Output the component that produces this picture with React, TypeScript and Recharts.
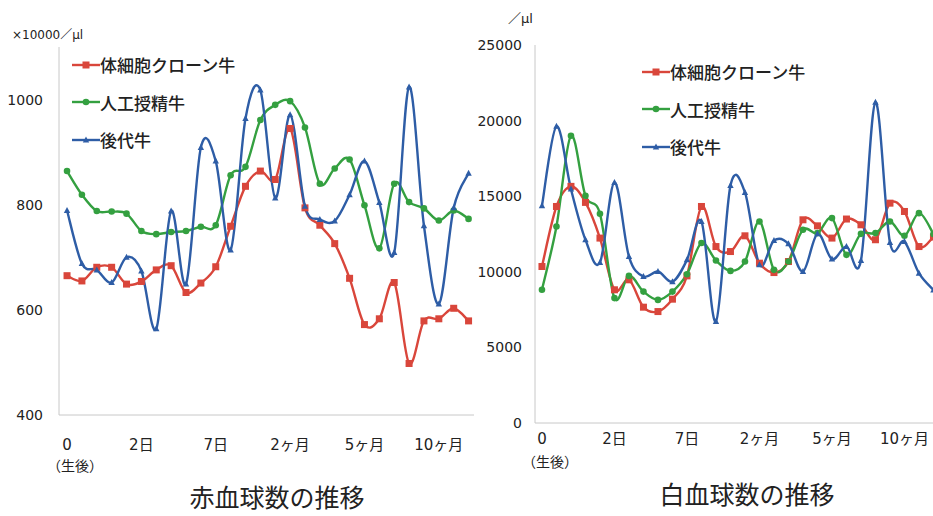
import React from "react";
import { LineChart, Line, XAxis, YAxis, Legend } from "recharts";

// 横軸: 生後からの経過 (28回の採血)
const tickIndex = [0, 5, 10, 15, 20, 25];
const tickLabels = ["0", "2日", "7日", "2ヶ月", "5ヶ月", "10ヶ月"];

// 赤血球数 (×10000/μl)
const rbcClone = [665, 655, 681, 681, 649, 654, 676, 684, 633, 651, 682, 759, 835, 864, 848, 945, 794, 761, 726, 660, 572, 583, 652, 498, 579, 583, 603, 579];
const rbcAI = [864, 819, 788, 787, 783, 750, 744, 748, 750, 758, 761, 856, 872, 961, 990, 997, 947, 840, 869, 886, 799, 717, 840, 805, 793, 770, 789, 773];
const rbcProgeny = [789, 688, 676, 652, 700, 674, 564, 788, 649, 909, 883, 714, 964, 1018, 813, 971, 797, 772, 769, 819, 883, 804, 709, 1024, 760, 611, 794, 860];

// 白血球数 (/μl)
const wbcClone = [10350, 14320, 15650, 14590, 12230, 8810, 9470, 7660, 7370, 8190, 9730, 14320, 11670, 11340, 12380, 10570, 9950, 10680, 13440, 13040, 12230, 13490, 13110, 12120, 14540, 13990, 11670, 12300];
const wbcAI = [8810, 13000, 19000, 15030, 13840, 8260, 9730, 8690, 8140, 8690, 9840, 11900, 10750, 10060, 10680, 13330, 10130, 10680, 12780, 12560, 13550, 11120, 12510, 12560, 13330, 12380, 13880, 12500];
const wbcProgeny = [14370, 19620, 15470, 12120, 10610, 15910, 11010, 9690, 10020, 9350, 10790, 13330, 6710, 15700, 15250, 10460, 12070, 11850, 10020, 12510, 10840, 11670, 10750, 21210, 11940, 12000, 9910, 8800];

const rbcTicks = [400, 600, 800, 1000];
const wbcTicks = [0, 5000, 10000, 15000, 20000, 25000];

const RED = "#d9463b";
const GREEN = "#34a040";
const BLUE = "#2e5da6";

const series = [
  { key: "clone", name: "体細胞クローン牛", color: RED, shape: "square" },
  { key: "ai", name: "人工授精牛", color: GREEN, shape: "circle" },
  { key: "progeny", name: "後代牛", color: BLUE, shape: "triangle" },
];

const rbcData = rbcClone.map((v, i) => ({ i, clone: v, ai: rbcAI[i], progeny: rbcProgeny[i] }));
const wbcData = wbcClone.map((v, i) => ({ i, clone: v, ai: wbcAI[i], progeny: wbcProgeny[i] }));

const JP = '"Noto Sans CJK JP", sans-serif';
const NUM = '"DejaVu Sans", "Noto Sans CJK JP", sans-serif';

// Excel風のなめらかな線 (Catmull-Rom)
function smooth(context: any) {
  let pts: number[][] = [];
  return {
    areaStart() {},
    areaEnd() {},
    lineStart() {
      pts = [];
    },
    point(x: number, y: number) {
      pts.push([+x, +y]);
    },
    lineEnd() {
      if (!pts.length) return;
      context.moveTo(pts[0][0], pts[0][1]);
      for (let k = 0; k < pts.length - 1; k++) {
        const p0 = pts[k - 1] || pts[k];
        const p1 = pts[k];
        const p2 = pts[k + 1];
        const p3 = pts[k + 2] || p2;
        context.bezierCurveTo(
          p1[0] + (p2[0] - p0[0]) / 6,
          p1[1] + (p2[1] - p0[1]) / 6,
          p2[0] - (p3[0] - p1[0]) / 6,
          p2[1] - (p3[1] - p1[1]) / 6,
          p2[0],
          p2[1]
        );
      }
    },
  };
}

function Marker({ shape, color, cx, cy }: any) {
  if (shape === "square") return <rect x={cx - 3.5} y={cy - 3.5} width={7} height={7} fill={color} />;
  if (shape === "circle") return <circle cx={cx} cy={cy} r={3.3} fill={color} />;
  return <path d={`M${cx},${cy - 3.5}L${cx + 3.2},${cy + 2.5}L${cx - 3.2},${cy + 2.5}Z`} fill={color} />;
}

function LegendBox() {
  return (
    <div style={{ fontFamily: JP, fontSize: 17, fontWeight: 500, color: "#222" }}>
      {series.map((s) => (
        <div key={s.key} style={{ display: "flex", alignItems: "center", height: 37.5 }}>
          <svg width={28} height={12}>
            <line x1={0} y1={6} x2={28} y2={6} stroke={s.color} strokeWidth={2.4} />
            <Marker shape={s.shape} color={s.color} cx={14} cy={6} />
          </svg>
          <span>{s.name}</span>
        </div>
      ))}
    </div>
  );
}

function makeTick(labelDy: number, subDy: number) {
  return (props: any) => {
    const { x, y, payload } = props;
    const idx = tickIndex.indexOf(payload.value);
    return (
      <g>
        <text x={x} y={y + labelDy} textAnchor="middle" fontSize={15} fill="#222" fontFamily={NUM}>
          {tickLabels[idx]}
        </text>
        {idx === 0 && (
          <text x={x + 8} y={y + subDy} textAnchor="middle" fontSize={14} fill="#222" fontFamily={JP}>
            （生後）
          </text>
        )}
      </g>
    );
  };
}

function Panel({ data, width, height, top, yWidth, yDomain, yTicks, xDomain, tickMargin, labelDy, subDy, legendLeft, legendTop }: any) {
  return (
    <LineChart width={width} height={height} data={data} margin={{ top, right: 0, left: 0, bottom: 0 }}>
      <XAxis
        dataKey="i"
        type="number"
        domain={xDomain}
        ticks={tickIndex}
        interval={0}
        height={60}
        axisLine={{ stroke: "#c8c8c8" }}
        tickLine={false}
        tickSize={0}
        tick={makeTick(labelDy, subDy)}
      />
      <YAxis
        width={yWidth}
        domain={yDomain}
        ticks={yTicks}
        interval={0}
        axisLine={{ stroke: "#c8c8c8" }}
        tickLine={false}
        tickSize={0}
        tickMargin={tickMargin}
        tick={{ fill: "#222", fontSize: 14, fontFamily: NUM }}
      />
      <Legend
        layout="vertical"
        align="center"
        verticalAlign="middle"
        wrapperStyle={{ position: "absolute", left: legendLeft, top: legendTop, width: 260 }}
        content={() => <LegendBox />}
      />
      {series.map((s) => (
        <Line
          key={s.key}
          dataKey={s.key}
          name={s.name}
          type={smooth as any}
          stroke={s.color}
          strokeWidth={2.4}
          isAnimationActive={false}
          activeDot={false}
          dot={(p: any) => <Marker key={`${s.key}-${p.index}`} shape={s.shape} color={s.color} cx={p.cx} cy={p.cy} />}
        />
      ))}
    </LineChart>
  );
}

export default function App() {
  return (
    <div style={{ position: "absolute", left: 0, top: 0, width: 933, height: 516, overflow: "hidden", background: "#fff" }}>
      <div style={{ position: "absolute", left: 0, top: 0, width: 474, height: 516, overflow: "hidden" }}>
        <Panel
          data={rbcData}
          width={476}
          height={475}
          top={47}
          yWidth={59}
          yDomain={[400, 1100]}
          yTicks={rbcTicks}
          xDomain={[-0.54, 27.5]}
          tickMargin={16}
          labelDy={33}
          subDy={54}
          legendLeft={72}
          legendTop={46}
        />
      </div>
      <div style={{ position: "absolute", left: 470, top: 0, width: 471, height: 516 }}>
        <Panel
          data={wbcData}
          width={471}
          height={483}
          top={45}
          yWidth={65}
          yDomain={[0, 25000]}
          yTicks={wbcTicks}
          xDomain={[-0.48, 27.52]}
          tickMargin={13}
          labelDy={19}
          subDy={42}
          legendLeft={172}
          legendTop={53}
        />
      </div>
      <div style={{ position: "absolute", left: 12, top: 25, fontFamily: NUM, fontSize: 12, color: "#222" }}>×10000／μl</div>
      <div style={{ position: "absolute", left: 508, top: 8, fontFamily: NUM, fontSize: 13, color: "#222" }}>／μl</div>
      <div style={{ position: "absolute", left: 277, top: 497, transform: "translate(-50%, -50%)", fontFamily: JP, fontSize: 25, color: "#222", whiteSpace: "nowrap", lineHeight: 1.1 }}>
        赤血球数の推移
      </div>
      <div style={{ position: "absolute", left: 747, top: 494, transform: "translate(-50%, -50%)", fontFamily: JP, fontSize: 25, color: "#222", whiteSpace: "nowrap", lineHeight: 1.1 }}>
        白血球数の推移
      </div>
    </div>
  );
}
